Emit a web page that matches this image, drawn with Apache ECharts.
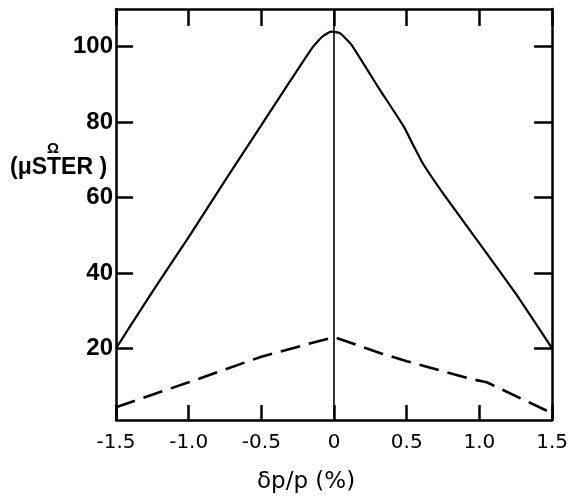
<!DOCTYPE html>
<html>
<head>
<meta charset="utf-8">
<script src="https://cdn.jsdelivr.net/npm/echarts@6/dist/echarts.min.js"></script>
<style>
  html, body { margin: 0; padding: 0; background: #fff; }
  #chart { width: 571px; height: 504px; }
</style>
</head>
<body>
<div id="chart"></div>
<script>
// solid curve (upper)
var solidX = [-1.5, -1.25, -1.0, -0.75, -0.5, -0.3, -0.15, -0.08, -0.02, 0.04, 0.12, 0.3, 0.48, 0.55, 0.61, 0.75, 0.95, 1.25, 1.5]
var solidY = [20, 35, 49.5, 64.5, 79.2, 91, 99.7, 102.7, 104, 103.6, 100.5, 89.5, 78.8, 73.5, 69.1, 61.1, 50.5, 34.5, 20]
// dashed curve (lower)
var dashedX = [-1.5, -1.0, -0.5, 0, 0.32, 0.5, 0.93, 1.05, 1.5]
var dashedY = [4.4, 11, 17.8, 23, 18.7, 16.6, 12, 11, 2.8]
// ticks
var xTicks = [-1.5, -1.0, -0.5, 0, 0.5, 1.0, 1.5]
var xTickLabels = ['-1.5', '-1.0', '-0.5', '0', '0.5', '1.0', '1.5']
var yTicks = [20, 40, 60, 80, 100]

function zip(xs, ys) {
  return xs.map(function (x, i) { return [x, ys[i]] })
}

var myChart = echarts.init(document.getElementById('chart'))

var tickStyle = { color: '#000', width: 2.5 }
function frameLine() {
  return { show: true, onZero: false, lineStyle: { color: '#000', width: 2.5 } }
}

var option = {
  animation: false,
  backgroundColor: '#fff',
  grid: { left: 116, right: 9, top: 9, bottom: 84 },
  xAxis: [{
    type: 'value',
    position: 'bottom',
    min: -1.5,
    max: 1.5,
    axisLine: frameLine(),
    axisTick: { inside: true, length: 15, lineStyle: tickStyle, customValues: xTicks },
    axisLabel: {
      customValues: xTicks,
      margin: 13,
      color: '#000',
      fontSize: 20,
      fontFamily: 'DejaVu Sans',
      formatter: function (v) {
        var i = xTicks.indexOf(v)
        return i >= 0 ? xTickLabels[i] : ''
      }
    },
    splitLine: { show: false }
  }, {
    type: 'value',
    position: 'top',
    min: -1.5,
    max: 1.5,
    axisLine: frameLine(),
    axisTick: { inside: true, length: 17, lineStyle: tickStyle, customValues: xTicks },
    axisLabel: { show: false },
    splitLine: { show: false }
  }],
  yAxis: [{
    type: 'value',
    position: 'left',
    min: 1,
    max: 110,
    axisLine: frameLine(),
    axisTick: { show: true, inside: true, length: 17, lineStyle: tickStyle, customValues: yTicks },
    axisLabel: {
      customValues: yTicks,
      margin: 3,
      color: '#000',
      fontSize: 24,
      fontWeight: 'bold',
      fontFamily: 'Liberation Sans'
    },
    splitLine: { show: false }
  }, {
    type: 'value',
    position: 'right',
    min: 1,
    max: 110,
    axisLine: frameLine(),
    axisTick: { show: true, inside: true, length: 18, lineStyle: tickStyle, customValues: yTicks },
    axisLabel: { show: false },
    splitLine: { show: false }
  }],
  graphic: [{
    type: 'text',
    left: 47,
    top: 141,
    style: { text: 'Ω', fontSize: 15, fontWeight: 'bold', fill: '#000', fontFamily: 'Liberation Sans' }
  }, {
    type: 'text',
    left: 10,
    top: 156,
    style: { text: '(μSTER )', fontSize: 23, fontWeight: 'bold', fill: '#000', fontFamily: 'Liberation Sans' }
  }, {
    type: 'text',
    left: 257,
    top: 471,
    style: { text: 'δp/p (%)', fontSize: 23, fill: '#000', fontFamily: 'DejaVu Sans' }
  }],
  series: [{
    name: 'solid',
    type: 'line',
    data: zip(solidX, solidY),
    showSymbol: false,
    smooth: 0.15,
    lineStyle: { color: '#000', width: 2.2 },
    markLine: {
      silent: true,
      symbol: 'none',
      label: { show: false },
      lineStyle: { color: '#000', type: 'solid', width: 1.6 },
      data: [{ xAxis: 0 }]
    }
  }, {
    name: 'dashed',
    type: 'line',
    data: zip(dashedX, dashedY),
    showSymbol: false,
    lineStyle: { color: '#000', width: 2.6, type: [20, 9] }
  }]
}

myChart.setOption(option)
window.addEventListener('resize', function () {
  myChart.resize()
})
</script>
</body>
</html>
